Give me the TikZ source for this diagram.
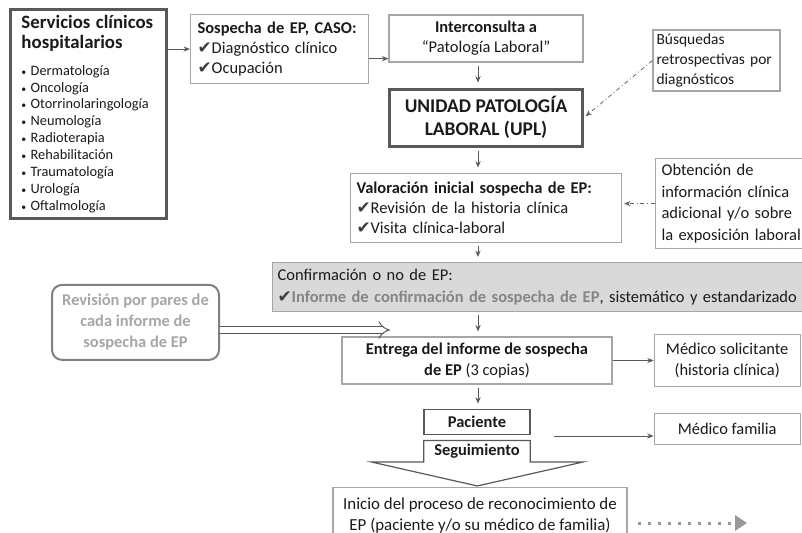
\documentclass[tikz,border=0pt]{standalone}
\usepackage{fontspec}
\setmainfont{Carlito}
\newfontfamily\simbolos{DejaVu Sans}
\usetikzlibrary{arrows.meta, positioning}

\definecolor{borde}{HTML}{A6A6A6}
\definecolor{oscuro}{HTML}{595959}
\definecolor{relleno}{HTML}{D9D9D9}
\definecolor{texto}{HTML}{1A1A1A}
\definecolor{gristexto}{HTML}{A6A6A6}
\definecolor{grisinforme}{HTML}{858585}
\newcommand{\chk}{{\simbolos\fontsize{12}{12}\selectfont\color{texto!85}\char"2714}}
\newcommand{\punto}{{\fontsize{7}{7}\selectfont\textbullet}\hspace{0.3em}}

\begin{document}
\begin{tikzpicture}[
  x=1mm, y=1mm,
  box/.style = {rectangle, draw=borde, line width=0.3mm, text=texto, inner sep=0pt, font=\fontsize{11.7}{14.2}\selectfont},
  thick box/.style = {box, draw=oscuro, line width=0.75mm},
  >={Stealth[length=1.6mm, width=1.3mm]},
  flecha/.style = {->, draw=oscuro, line width=0.25mm},
  punteada/.style = {->, draw=black!60, line width=0.2mm, dash dot, shorten >=0.5mm},
  node distance=6.25mm
  ]
  \useasboundingbox (0,0) rectangle (200.5,-133.25);
  \clip (0,0) rectangle (200.5,-133.25);

  % Nodos
  \node[thick box, anchor=north west, minimum width=39mm, minimum height=52.25mm, text width=33.5mm, align=left] (servicios) at (2.25,-2)
    {{\fontsize{13.4}{14.2}\selectfont\bfseries Servicios clínicos\\hospitalarios\par}\vspace{7pt}
     {\fontsize{10.2}{12}\selectfont
      \punto Dermatología\\\punto Oncología\\\punto Otorrinolaringología\\\punto Neumología\\
      \punto Radioterapia\\\punto Rehabilitación\\\punto Traumatología\\\punto Urología\\
      \punto Oftalmología\par}};
  \node[box, anchor=north west, minimum width=44.5mm, minimum height=17.25mm, text width=41mm, align=left] (sospecha) at (47.5,-3.5)
    {\textbf{Sospecha de EP, CASO:}\\\chk Diagnóstico clínico\\\chk Ocupación};
  \node[box, minimum width=48.5mm, minimum height=11.75mm, align=center] (interconsulta) at (121.5,-9.625)
    {\textbf{Interconsulta a}\\“Patología Laboral”};
  \node[thick box, below=of interconsulta, minimum width=48.25mm, minimum height=14.25mm, align=center, font=\fontsize{13.8}{16.5}\selectfont\bfseries] (upl)
    {UNIDAD PATOLOGÍA\\LABORAL (UPL)};
  \node[box, minimum width=31.75mm, minimum height=15.25mm, text width=30mm, align=left, font=\fontsize{11}{14}\selectfont] (busquedas) at (179.125,-15.125)
    {Búsquedas\\retrospectivas por\\diagnósticos};
  \node[box, below=of upl, minimum width=67.75mm, minimum height=17.25mm, text width=64.75mm, align=left] (valoracion)
    {\textbf{Valoración inicial sospecha de EP:}\\\chk Revisión de la historia clínica\\\chk Visita clínica-laboral};
  \node[box, anchor=north west, minimum width=40mm, minimum height=22.5mm, text width=37mm, align=left, font=\fontsize{11.7}{15.5}\selectfont] (obtencion) at (163.75,-39.5)
    {Obtención de\\información clínica\\adicional y/o sobre\\la exposición laboral};
  \node[box, anchor=north west, draw=black!35, fill=relleno, minimum width=135mm, minimum height=12.25mm, text width=132.5mm, align=left, font=\fontsize{11.7}{16.3}\selectfont] (confirmacion) at (68,-65.5)
    {Confirmación o no de EP:\\\chk{\color{grisinforme}\bfseries Informe de confirmación de sospecha de EP}, sistemático y estandarizado};
  \node[box, rounded corners=2.5mm, draw=black!50, line width=0.5mm, text=gristexto, minimum width=41.75mm, minimum height=18.75mm, align=center, font=\fontsize{11.7}{15}\selectfont\bfseries] (revision) at (33.875,-80.6)
    {Revisión por pares de\\cada informe de\\sospecha de EP};
  \node[box, minimum width=67.5mm, minimum height=11.75mm, align=center, font=\fontsize{11.7}{15}\selectfont] (entrega) at (119.25,-90.125)
    {\textbf{Entrega del informe de sospecha}\\\textbf{de EP} (3 copias)};
  \node[box, right=10.25mm of entrega, minimum width=36.5mm, minimum height=13mm, align=center, font=\fontsize{11.7}{15}\selectfont] (solicitante)
    {Médico solicitante\\(historia clínica)};
  \node[box, below=6mm of entrega, draw=oscuro, line width=0.45mm, minimum width=26.5mm, minimum height=6.25mm, font=\fontsize{11.7}{14.2}\selectfont\bfseries] (paciente)
    {Paciente};
  \node[below=1.25mm of paciente, text=texto, inner sep=0pt, minimum width=26.5mm, minimum height=5.25mm, font=\fontsize{11.7}{14.2}\selectfont\bfseries] (seguimiento)
    {Seguimiento};
  \node[box, below=6.5mm of solicitante, minimum width=36.5mm, minimum height=7.75mm] (familia)
    {Médico familia};
  \node[box, anchor=north, minimum width=73.5mm, minimum height=14mm, align=center, font=\fontsize{12}{14.5}\selectfont] (inicio) at (120,-121.75)
    {Inicio del proceso de reconocimiento de\\EP (paciente y/o su médico de familia)};

  \draw[draw=oscuro, line width=0.3mm] (seguimiento.north west) -- (seguimiento.north east) -- (seguimiento.south east)
    -- ++(13.25,0) -- ++(-26.5,-6) -- ++(-26.5,6) -- (seguimiento.south west) -- cycle;

  \coordinate (eje) at (119.5,0);
  \coordinate (punta) at (97.5,0);
  \coordinate (salida) at (138.5,-109);
  \coordinate (puntos) at (159.5,-130.75);
  \coordinate (fin) at (186.75,-130.75);
  \coordinate (doble) at ([yshift=-1.9mm]revision.east);

  % Flechas
  \draw[flecha] (servicios.east |- sospecha.west) -- (sospecha.west);
  \draw[flecha] ([yshift=-2.4mm]sospecha.east) -- ([yshift=-2.4mm]sospecha.east -| interconsulta.west);
  \draw[flecha, shorten <=0.75mm, shorten >=1.25mm] (interconsulta.south -| eje) -- (upl.north -| eje);
  \draw[flecha, shorten <=0.75mm, shorten >=1.25mm] (upl.south -| eje) -- (valoracion.north -| eje);
  \draw[flecha, shorten <=0.75mm, shorten >=1.25mm] (valoracion.south -| eje) -- (confirmacion.north -| eje);
  \draw[flecha, shorten <=0.75mm, shorten >=1.25mm] (confirmacion.south -| eje) -- (entrega.north -| eje);
  \draw[flecha, shorten <=0.75mm, shorten >=1.25mm] (entrega.south -| eje) -- (paciente.north -| eje);
  \draw[flecha] (entrega.east) -- (solicitante.west);
  \draw[flecha] (salida) -- (salida -| familia.west);
  \draw[punteada] (busquedas.west) -- (upl.east);
  \draw[punteada] (obtencion.west) -- (obtencion.west -| valoracion.east);
  \draw[draw=oscuro, line width=0.25mm, double=white, double distance=1.3mm, -{Implies[length=3mm, width=6mm]}] (doble) -- (doble -| punta);
  \draw[draw=black!40, line width=0.75mm, dash pattern=on 0.75mm off 1.75mm, -{Triangle[length=3mm, width=3.75mm]}] (puntos) -- (fin);

\end{tikzpicture}
\end{document}
